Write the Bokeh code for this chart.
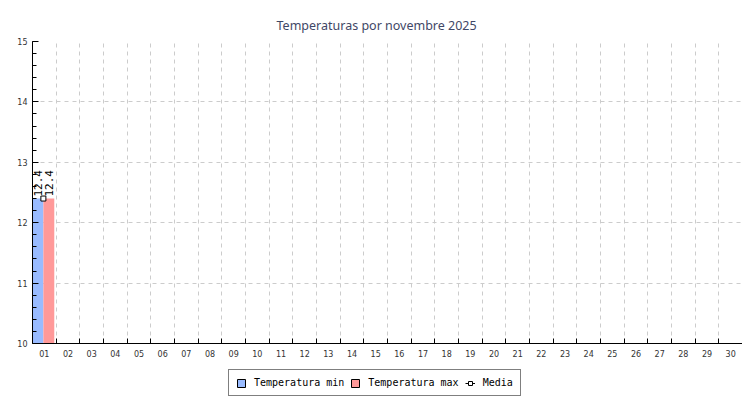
from bokeh.plotting import figure
from bokeh.models import (ColumnDataSource, FixedTicker, Legend, LegendItem, Range1d)
from bokeh.layouts import column
from bokeh.core.properties import value
from bokeh.embed import file_html
from bokeh.resources import INLINE

days = ["%02d" % d for d in range(1, 31)]
data_days = ["01"]
tmin = [12.4]
tmax = [12.4]
media = [12.4]

title_txt = "Temperaturas por novembre 2025"
y_ticks = [10, 11, 12, 13, 14, 15]
series_names = ["Temperatura min", "Temperatura max", "Media"]
col_min = "#99bbff"
col_max = "#ff9999"

idx = [days.index(d) for d in data_days]
src = ColumnDataSource(dict(
    xmin=[i + 0.23 for i in idx],
    xmax=[i + 0.69 for i in idx],
    xmed=[i + 0.46 for i in idx],
    tmin=tmin, tmax=tmax, media=media,
    lmin=["%.1f" % v for v in tmin],
    lmax=["%.1f" % v for v in tmax],
))

p = figure(width=742, height=368, output_backend="svg", toolbar_location=None,
           x_range=Range1d(0, len(days)), y_range=Range1d(10, 15),
           min_border_left=32, min_border_right=0, min_border_top=41,
           min_border_bottom=25)
p.outline_line_color = None
p.background_fill_color = "white"

p.title.text = title_txt
p.title.align = "left"
p.title.text_font = "Noto Sans"
p.title.text_font_size = "12.5px"
p.title.text_font_style = "normal"
p.title.text_color = "#3f4766"
p.title.offset = 244
p.title.standoff = 15

p.vbar(x="xmin", width=0.46, top="tmin", bottom=10, source=src,
       fill_color=col_min, line_color=None)
p.vbar(x="xmax", width=0.46, top="tmax", bottom=10, source=src,
       fill_color=col_max, line_color=None)
p.line(x="xmed", y="media", source=src, line_color="black", line_width=1)
p.scatter(x="xmed", y="media", source=src, marker="square", size=5,
          fill_color="white", line_color="black", line_width=1)

p.text(x="xmin", y="tmin", text="lmin", source=src, angle=1.5708,
       text_align="left", text_baseline="middle", x_offset=0, y_offset=-2,
       text_font=value("DejaVu Sans Mono"), text_font_size="11px", text_color="black")
p.text(x="xmax", y="tmax", text="lmax", source=src, angle=1.5708,
       text_align="left", text_baseline="middle", x_offset=0, y_offset=-2,
       text_font=value("DejaVu Sans Mono"), text_font_size="11px", text_color="black")

# x axis
p.xaxis.ticker = FixedTicker(ticks=[i + 0.5 for i in range(len(days))],
                             minor_ticks=list(range(1, len(days) + 1)))
p.xaxis.major_label_overrides = {i + 0.5: d for i, d in enumerate(days)}
p.xaxis.major_tick_line_color = None
p.xaxis.minor_tick_in = 5
p.xaxis.minor_tick_out = 0
p.xaxis.minor_tick_line_color = "black"
p.xaxis.axis_line_color = "black"
p.xaxis.major_label_text_font = "DejaVu Sans"
p.xaxis.major_label_text_font_size = "8px"
p.xaxis.major_label_text_color = "#333333"
p.xaxis.major_label_standoff = 0

# y axis
p.yaxis.ticker = FixedTicker(ticks=y_ticks,
                             minor_ticks=[10 + k * 0.2 for k in range(26)])
p.yaxis.major_tick_in = 6
p.yaxis.major_tick_out = 0
p.yaxis.minor_tick_in = 4
p.yaxis.minor_tick_out = 0
p.yaxis.axis_line_color = "black"
p.yaxis.major_label_text_font = "DejaVu Sans"
p.yaxis.major_label_text_font_size = "8px"
p.yaxis.major_label_text_color = "#333333"
p.yaxis.major_label_standoff = 5

p.xgrid.ticker = FixedTicker(ticks=list(range(1, len(days) + 1)))
p.ygrid.ticker = FixedTicker(ticks=y_ticks[1:])
for g in (p.xgrid, p.ygrid):
    g.grid_line_color = "#cccccc"
    g.grid_line_dash = "4 4"
    g.grid_line_width = 1

# legend strip below the chart (sample renderers sit outside its visible range)
lg = figure(width=742, height=30, output_backend="svg", toolbar_location=None,
            x_range=Range1d(0, 1), y_range=Range1d(0, 1),
            x_axis_location=None, y_axis_location=None,
            min_border=0, outline_line_color=None)
lg.grid.visible = False
sample = ColumnDataSource(dict(x=[5], y=[5]))
g1 = lg.vbar(x="x", top="y", width=0.1, source=sample, fill_color=col_min, line_color="black")
g2 = lg.vbar(x="x", top="y", width=0.1, source=sample, fill_color=col_max, line_color="black")
g3l = lg.line(x="x", y="y", source=sample, line_color="black", line_width=1)
g3 = lg.scatter(x="x", y="y", source=sample, marker="square", size=4,
                fill_color="white", line_color="black")
legend = Legend(items=[
    LegendItem(label=series_names[0], renderers=[g1]),
    LegendItem(label=series_names[1], renderers=[g2]),
    LegendItem(label=series_names[2], renderers=[g3l, g3]),
], orientation="horizontal", location=(196, 2))
legend.label_text_font = "DejaVu Sans Mono"
legend.label_text_font_size = "10px"
legend.label_text_color = "black"
legend.border_line_color = "black"
legend.border_line_width = 1
legend.glyph_width = 10
legend.glyph_height = 10
legend.spacing = 6
legend.padding = 7
legend.margin = 0
legend.label_standoff = 8
legend.background_fill_alpha = 1
lg.add_layout(legend, "center")

layout = column(p, lg, spacing=0)
open("out.html", "w").write(file_html(layout, INLINE))
